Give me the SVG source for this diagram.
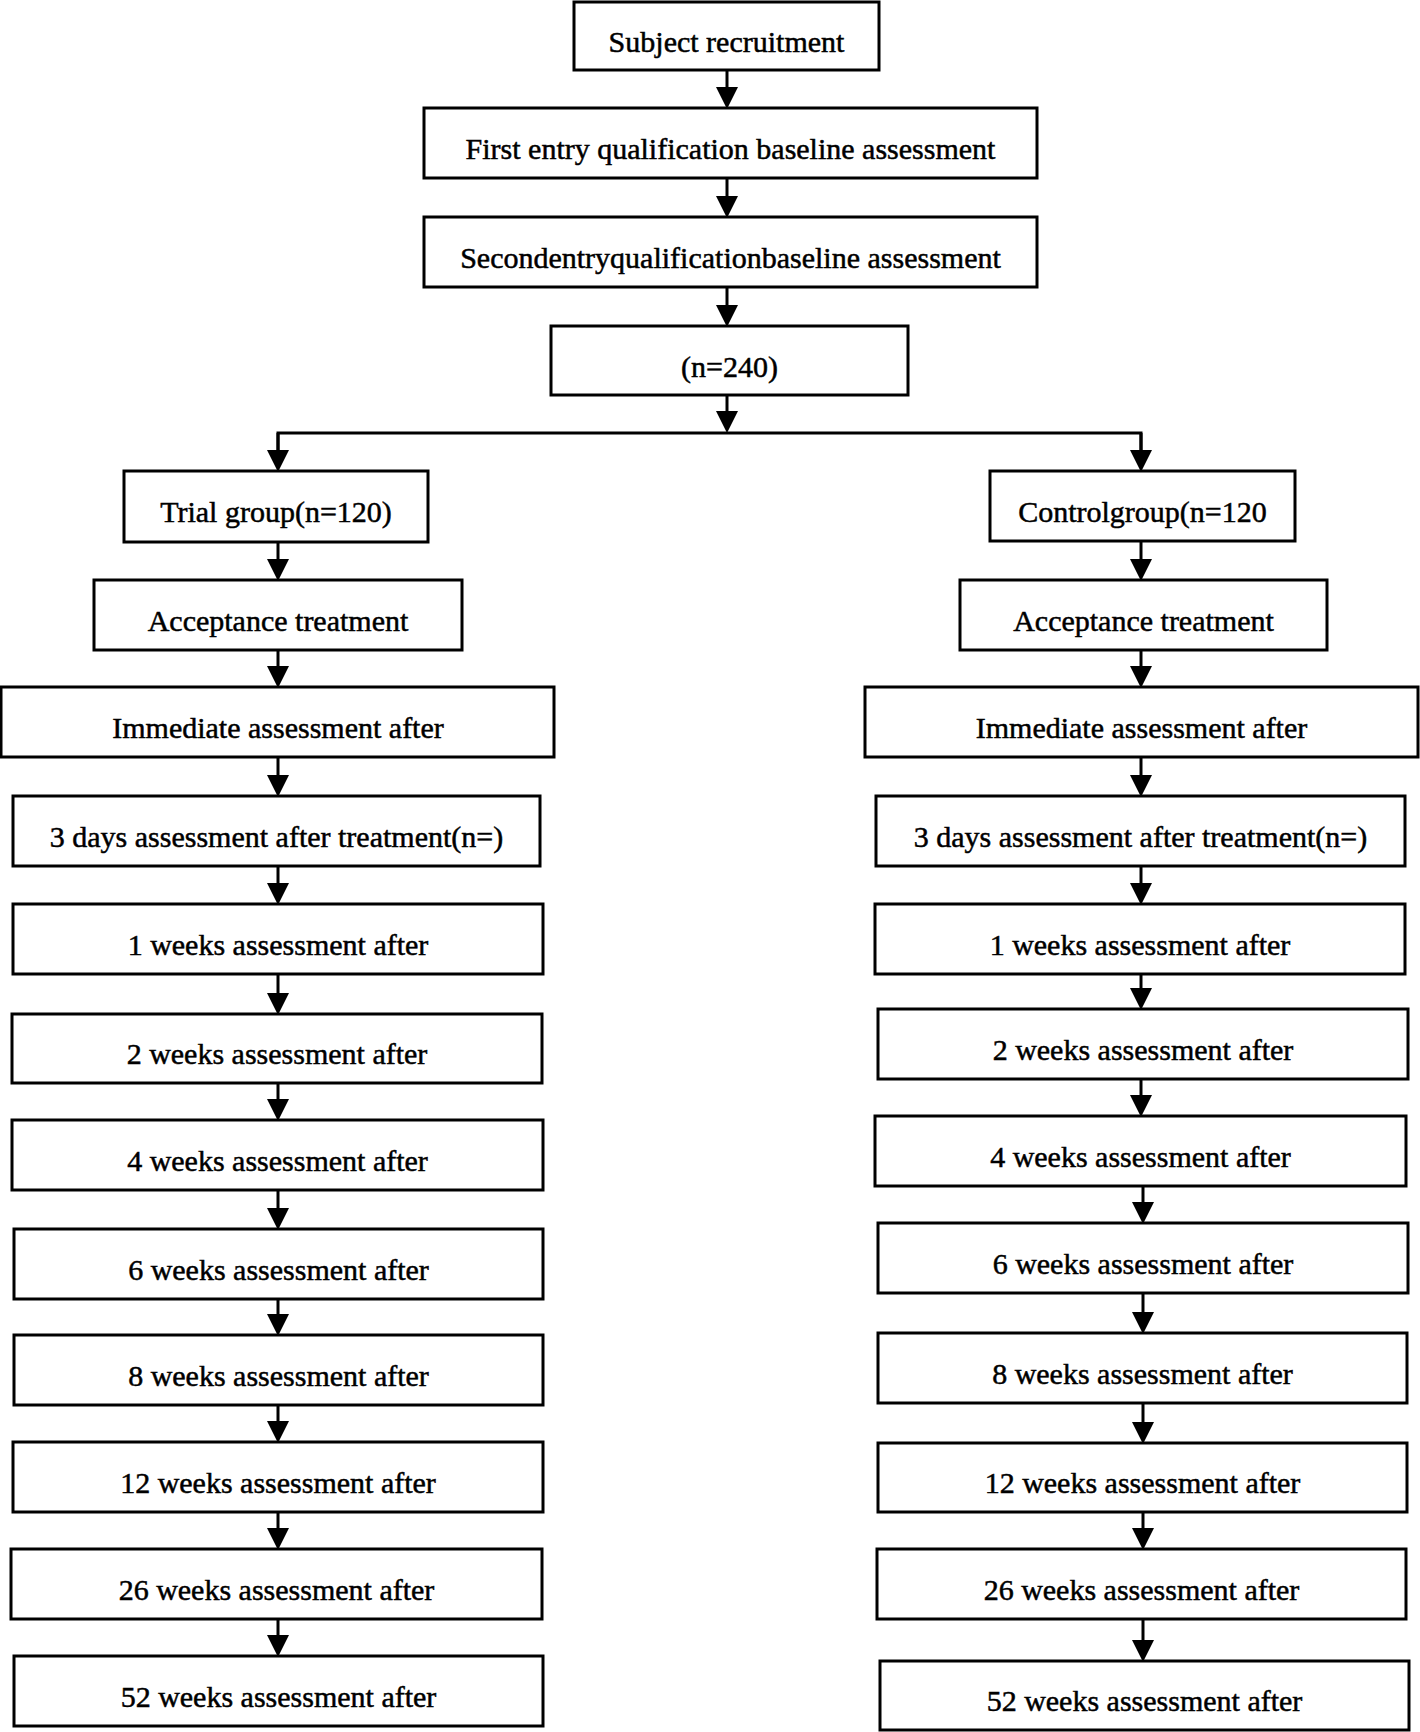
<svg xmlns="http://www.w3.org/2000/svg" width="1420" height="1732" viewBox="0 0 1420 1732">
<style>
.box{fill:#fff;stroke:#000;stroke-width:3}
.t{font-family:"Liberation Serif","Times New Roman",serif;font-size:30px;fill:#000;stroke:#000;stroke-width:0.5;text-anchor:middle}
.c{fill:none;stroke:#000;stroke-width:3}
</style>
<defs>
<marker id="ah" markerUnits="userSpaceOnUse" markerWidth="22" markerHeight="22" viewBox="0 0 20 20" refX="10" refY="10" orient="auto">
<path d="M0,0 L20,10 L0,20 z" fill="#000"/>
</marker>
</defs>
<rect width="1420" height="1732" fill="#fff"/>
<g id="connectors">
<line class="c" x1="727" y1="70" x2="727" y2="98" marker-end="url(#ah)"/>
<line class="c" x1="727" y1="178" x2="727" y2="207" marker-end="url(#ah)"/>
<line class="c" x1="727" y1="287" x2="727" y2="316" marker-end="url(#ah)"/>
<line class="c" x1="727" y1="395" x2="727" y2="422" marker-end="url(#ah)"/>
<polyline class="c" points="278,461 278,433 1141,433 1141,461"/>
<line class="c" x1="278" y1="433" x2="278" y2="461" marker-end="url(#ah)"/>
<line class="c" x1="1141" y1="433" x2="1141" y2="461" marker-end="url(#ah)"/>
<line class="c" x1="278" y1="542" x2="278" y2="570" marker-end="url(#ah)"/>
<line class="c" x1="278" y1="650" x2="278" y2="677" marker-end="url(#ah)"/>
<line class="c" x1="278" y1="757" x2="278" y2="786" marker-end="url(#ah)"/>
<line class="c" x1="278" y1="866" x2="278" y2="894" marker-end="url(#ah)"/>
<line class="c" x1="278" y1="974" x2="278" y2="1004" marker-end="url(#ah)"/>
<line class="c" x1="278" y1="1083" x2="278" y2="1110" marker-end="url(#ah)"/>
<line class="c" x1="278" y1="1190" x2="278" y2="1219" marker-end="url(#ah)"/>
<line class="c" x1="278" y1="1299" x2="278" y2="1325" marker-end="url(#ah)"/>
<line class="c" x1="278" y1="1405" x2="278" y2="1432" marker-end="url(#ah)"/>
<line class="c" x1="278" y1="1512" x2="278" y2="1539" marker-end="url(#ah)"/>
<line class="c" x1="278" y1="1619" x2="278" y2="1646" marker-end="url(#ah)"/>
<line class="c" x1="1141" y1="541" x2="1141" y2="570" marker-end="url(#ah)"/>
<line class="c" x1="1141" y1="650" x2="1141" y2="677" marker-end="url(#ah)"/>
<line class="c" x1="1141" y1="757" x2="1141" y2="786" marker-end="url(#ah)"/>
<line class="c" x1="1141" y1="866" x2="1141" y2="894" marker-end="url(#ah)"/>
<line class="c" x1="1141" y1="974" x2="1141" y2="999" marker-end="url(#ah)"/>
<line class="c" x1="1141" y1="1079" x2="1141" y2="1106" marker-end="url(#ah)"/>
<line class="c" x1="1143" y1="1186" x2="1143" y2="1213" marker-end="url(#ah)"/>
<line class="c" x1="1143" y1="1293" x2="1143" y2="1323" marker-end="url(#ah)"/>
<line class="c" x1="1143" y1="1403" x2="1143" y2="1433" marker-end="url(#ah)"/>
<line class="c" x1="1143" y1="1512" x2="1143" y2="1539" marker-end="url(#ah)"/>
<line class="c" x1="1143" y1="1619" x2="1143" y2="1651" marker-end="url(#ah)"/>
</g>
<g id="n-recruit"><rect class="box" x="574" y="2" width="305" height="68"/><text class="t" x="726.5" y="52">Subject recruitment</text></g>
<g id="n-first"><rect class="box" x="424" y="108" width="613" height="70"/><text class="t" x="730.5" y="159">First entry qualification baseline assessment</text></g>
<g id="n-second"><rect class="box" x="424" y="217" width="613" height="70"/><text class="t" x="730.5" y="268">Secondentryqualificationbaseline assessment</text></g>
<g id="n-total"><rect class="box" x="551" y="326" width="357" height="69"/><text class="t" x="729.5" y="377">(n=240)</text></g>
<g id="n-trial"><rect class="box" x="124" y="471" width="304" height="71"/><text class="t" x="276" y="522">Trial group(n=120)</text></g>
<g id="n-control"><rect class="box" x="990" y="471" width="305" height="70"/><text class="t" x="1142.5" y="522">Controlgroup(n=120</text></g>
<g id="l-accept"><rect class="box" x="94" y="580" width="368" height="70"/><text class="t" x="278" y="631">Acceptance treatment</text></g>
<g id="r-accept"><rect class="box" x="960" y="580" width="367" height="70"/><text class="t" x="1143.5" y="631">Acceptance treatment</text></g>
<g id="l-immediate"><rect class="box" x="1" y="687" width="553" height="70"/><text class="t" x="278" y="738">Immediate assessment after</text></g>
<g id="r-immediate"><rect class="box" x="865" y="687" width="553" height="70"/><text class="t" x="1141.5" y="738">Immediate assessment after</text></g>
<g id="l-3d"><rect class="box" x="13" y="796" width="527" height="70"/><text class="t" x="276.5" y="847">3 days assessment after treatment(n=)</text></g>
<g id="r-3d"><rect class="box" x="876" y="796" width="529" height="70"/><text class="t" x="1140.5" y="847">3 days assessment after treatment(n=)</text></g>
<g id="l-1w"><rect class="box" x="13" y="904" width="530" height="70"/><text class="t" x="278" y="955">1 weeks assessment after</text></g>
<g id="r-1w"><rect class="box" x="875" y="904" width="530" height="70"/><text class="t" x="1140" y="955">1 weeks assessment after</text></g>
<g id="l-2w"><rect class="box" x="12" y="1014" width="530" height="69"/><text class="t" x="277" y="1064">2 weeks assessment after</text></g>
<g id="r-2w"><rect class="box" x="878" y="1009" width="530" height="70"/><text class="t" x="1143" y="1060">2 weeks assessment after</text></g>
<g id="l-4w"><rect class="box" x="12" y="1120" width="531" height="70"/><text class="t" x="277.5" y="1171">4 weeks assessment after</text></g>
<g id="r-4w"><rect class="box" x="875" y="1116" width="531" height="70"/><text class="t" x="1140.5" y="1167">4 weeks assessment after</text></g>
<g id="l-6w"><rect class="box" x="14" y="1229" width="529" height="70"/><text class="t" x="278.5" y="1280">6 weeks assessment after</text></g>
<g id="r-6w"><rect class="box" x="878" y="1223" width="530" height="70"/><text class="t" x="1143" y="1274">6 weeks assessment after</text></g>
<g id="l-8w"><rect class="box" x="14" y="1335" width="529" height="70"/><text class="t" x="278.5" y="1386">8 weeks assessment after</text></g>
<g id="r-8w"><rect class="box" x="878" y="1333" width="529" height="70"/><text class="t" x="1142.5" y="1384">8 weeks assessment after</text></g>
<g id="l-12w"><rect class="box" x="13" y="1442" width="530" height="70"/><text class="t" x="278" y="1493">12 weeks assessment after</text></g>
<g id="r-12w"><rect class="box" x="878" y="1443" width="529" height="69"/><text class="t" x="1142.5" y="1493">12 weeks assessment after</text></g>
<g id="l-26w"><rect class="box" x="11" y="1549" width="531" height="70"/><text class="t" x="276.5" y="1600">26 weeks assessment after</text></g>
<g id="r-26w"><rect class="box" x="877" y="1549" width="529" height="70"/><text class="t" x="1141.5" y="1600">26 weeks assessment after</text></g>
<g id="l-52w"><rect class="box" x="14" y="1656" width="529" height="70"/><text class="t" x="278.5" y="1707">52 weeks assessment after</text></g>
<g id="r-52w"><rect class="box" x="880" y="1661" width="529" height="69"/><text class="t" x="1144.5" y="1711">52 weeks assessment after</text></g>
</svg>
